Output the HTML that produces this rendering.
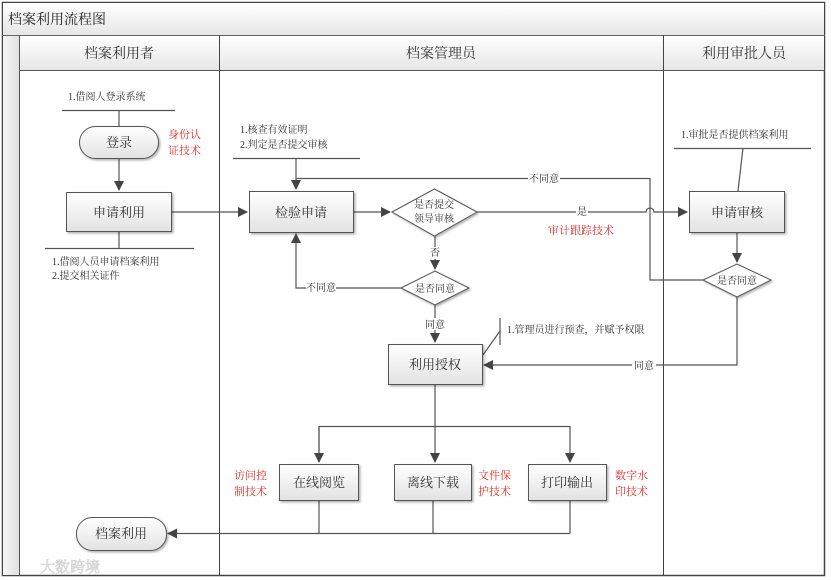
<!DOCTYPE html>
<html><head><meta charset="utf-8"><style>
html,body{margin:0;padding:0;background:#fff;}
svg{display:block;font-family:"Liberation Serif","Noto Serif CJK SC","Noto Sans CJK SC",serif;}
</style></head><body>
<svg width="831" height="580" viewBox="0 0 831 580" xmlns="http://www.w3.org/2000/svg">
<defs>
<linearGradient id="hg" x1="0" y1="0" x2="0" y2="1"><stop offset="0" stop-color="#ffffff"/><stop offset="1" stop-color="#e6e6e6"/></linearGradient>
<linearGradient id="bg" x1="0" y1="0" x2="0" y2="1"><stop offset="0" stop-color="#ffffff"/><stop offset="1" stop-color="#e2e2e2"/></linearGradient>
<linearGradient id="sg" x1="0" y1="0" x2="1" y2="0"><stop offset="0" stop-color="#f6f6f6"/><stop offset="1" stop-color="#e0e0e0"/></linearGradient>
<marker id="a" markerWidth="10" markerHeight="10" refX="9" refY="5" orient="auto" markerUnits="userSpaceOnUse"><path d="M0,0 L10,5 L0,10 z" fill="#444"/></marker>
<filter id="sh" x="-10%" y="-10%" width="130%" height="140%"><feDropShadow dx="1.5" dy="1.5" stdDeviation="1" flood-color="#000" flood-opacity="0.3"/></filter>
</defs>
<rect x="2.5" y="2.5" width="822" height="573" fill="#fff" stroke="#444" stroke-width="1.5"/>
<rect x="3" y="3" width="821" height="32" fill="url(#hg)"/>
<line x1="2" y1="35.5" x2="825" y2="35.5" stroke="#666"/>
<text x="8" y="24" font-size="14" fill="#222">档案利用流程图</text>
<rect x="3" y="36" width="16" height="539" fill="url(#sg)"/>
<line x1="19.5" y1="35" x2="19.5" y2="576" stroke="#555"/>
<rect x="20" y="36" width="804" height="34" fill="url(#hg)"/>
<line x1="19" y1="70.5" x2="825" y2="70.5" stroke="#555"/>
<line x1="219.5" y1="35" x2="219.5" y2="576" stroke="#444"/>
<line x1="663.5" y1="35" x2="663.5" y2="576" stroke="#444"/>
<text x="119" y="58" font-size="14" fill="#333" text-anchor="middle">档案利用者</text>
<text x="441" y="58" font-size="14" fill="#333" text-anchor="middle">档案管理员</text>
<text x="744" y="58" font-size="14" fill="#333" text-anchor="middle">利用审批人员</text>

<g stroke="#555" stroke-width="1.2" fill="none">
<line x1="62" y1="110.5" x2="175" y2="110.5"/>
<line x1="119" y1="110" x2="119" y2="126"/>
<line x1="119" y1="158" x2="119" y2="190" marker-end="url(#a)"/>
<line x1="45" y1="248.5" x2="194" y2="248.5"/>
<line x1="119" y1="232" x2="119" y2="248"/>
<line x1="171" y1="212" x2="247" y2="212" marker-end="url(#a)"/>
<line x1="233" y1="158.5" x2="360" y2="158.5"/>
<line x1="296" y1="158" x2="296" y2="189" marker-end="url(#a)"/>
<path d="M296,178.5 H650 V280 H703"/>
<line x1="353" y1="212" x2="390" y2="212" marker-end="url(#a)"/>
<path d="M477,212 H646 A4,4 0 0 1 654,212 H687" marker-end="url(#a)"/>
<line x1="435" y1="236" x2="435" y2="269" marker-end="url(#a)"/>
<path d="M401,288 H296 V234" marker-end="url(#a)"/>
<line x1="435" y1="304" x2="435" y2="342" marker-end="url(#a)"/>
<line x1="500" y1="318" x2="500" y2="345"/>
<line x1="483" y1="355" x2="500" y2="331"/>
<path d="M737,297 V365 H484" marker-end="url(#a)"/>
<line x1="435" y1="384" x2="435" y2="462" marker-end="url(#a)"/>
<path d="M319,462 V426.5 H570 V462" marker-end="url(#a)"/>
<line x1="319" y1="427" x2="319" y2="462" marker-end="url(#a)"/>
<line x1="319" y1="501" x2="319" y2="533"/>
<line x1="433" y1="501" x2="433" y2="533"/>
<line x1="570" y1="501" x2="570" y2="533.5"/>
<line x1="570" y1="533.5" x2="168" y2="533.5" marker-end="url(#a)"/>
<line x1="674" y1="148.5" x2="811" y2="148.5"/>
<line x1="743" y1="148" x2="738" y2="191"/>
<line x1="737" y1="232" x2="737" y2="262" marker-end="url(#a)"/>
</g>

<g stroke="#555" stroke-width="1" filter="url(#sh)">
<rect x="79.5" y="126.5" width="79" height="32" rx="16" fill="url(#bg)"/>
<rect x="66.5" y="192.5" width="105" height="39" fill="url(#bg)"/>
<rect x="249.5" y="191.5" width="104" height="41" fill="url(#bg)"/>
<polygon points="392,212 434.5,189 477,212 434.5,236" fill="#fff"/>
<rect x="689.5" y="191.5" width="95" height="41" fill="url(#bg)"/>
<polygon points="703,280 737,264 771,280 737,297" fill="#fff"/>
<polygon points="401,288 435,271 469,288 435,305" fill="#fff"/>
<rect x="388.5" y="344.5" width="94" height="40" fill="url(#bg)"/>
<rect x="279.5" y="464.5" width="79" height="36" fill="url(#bg)"/>
<rect x="394.5" y="464.5" width="77" height="36" fill="url(#bg)"/>
<rect x="528.5" y="464.5" width="78" height="36" fill="url(#bg)"/>
<rect x="76.5" y="517.5" width="90" height="33" rx="16" fill="url(#bg)"/>
</g>

<g fill="#fff">
<rect x="528" y="172" width="32" height="12"/>
<rect x="576" y="206" width="12" height="12"/>
<rect x="429" y="247" width="12" height="12"/>
<rect x="306" y="282" width="30" height="12"/>
<rect x="424" y="318" width="22" height="12"/>
<rect x="632" y="359" width="24" height="12"/>
</g>

<g font-size="13" fill="#333" text-anchor="middle">
<text x="119" y="147">登录</text>
<text x="119" y="217">申请利用</text>
<text x="301" y="217">检验申请</text>
<text x="737" y="217">申请审核</text>
<text x="435" y="369">利用授权</text>
<text x="319" y="487">在线阅览</text>
<text x="433" y="487">离线下载</text>
<text x="567" y="487">打印输出</text>
<text x="121" y="538">档案利用</text>
</g>
<g font-size="10" fill="#333" text-anchor="middle">
<text x="434" y="208">是否提交</text>
<text x="434" y="222">领导审核</text>
<text x="737" y="284">是否同意</text>
<text x="435" y="292">是否同意</text>
<text x="544" y="182">不同意</text>
<text x="582" y="215">是</text>
<text x="435" y="256">否</text>
<text x="321" y="291">不同意</text>
<text x="435" y="328">同意</text>
<text x="644" y="369">同意</text>
</g>
<g font-size="10" fill="#333">
<text x="68" y="100">1.借阅人登录系统</text>
<text x="52" y="265">1.借阅人员申请档案利用</text>
<text x="52" y="279">2.提交相关证件</text>
<text x="240" y="133">1.核查有效证明</text>
<text x="240" y="148">2.判定是否提交审核</text>
<text x="681" y="138">1.审批是否提供档案利用</text>
<text x="507" y="333">1.管理员进行预查，并赋予权限</text>
</g>
<g font-size="11" fill="#e0302a">
<text x="168" y="138">身份认</text>
<text x="168" y="154">证技术</text>
<text x="548" y="234">审计跟踪技术</text>
<text x="234" y="479">访问控</text>
<text x="234" y="495">制技术</text>
<text x="478" y="479">文件保</text>
<text x="478" y="495">护技术</text>
<text x="615" y="479">数字水</text>
<text x="615" y="495">印技术</text>
</g>
<text x="40" y="572" font-size="15" fill="#eee" stroke="#ccc" stroke-width="0.5">大数跨境</text>
</svg>
</body></html>
